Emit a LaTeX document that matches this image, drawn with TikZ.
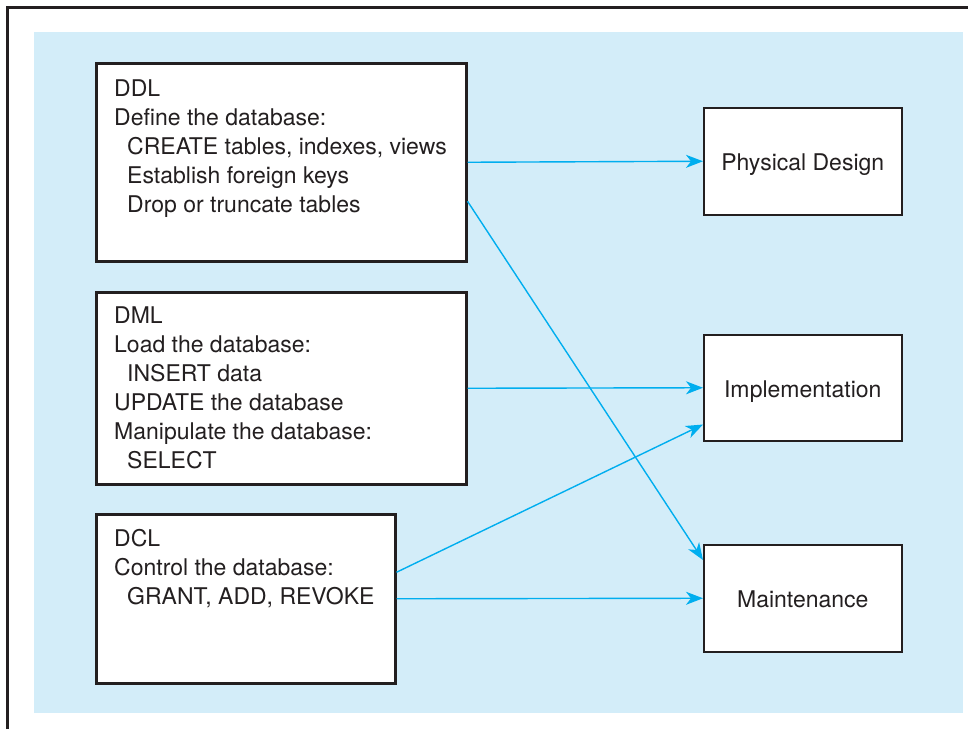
\documentclass[tikz,border=0pt]{standalone}
\usepackage{fontspec}
\setmainfont{TeX Gyre Heros}
\usetikzlibrary{arrows.meta}
\definecolor{panel}{HTML}{D3EDF9}
\definecolor{ink}{HTML}{231F20}
\definecolor{arrowc}{HTML}{00AEEF}
\begin{document}
\begin{tikzpicture}[x=1pt,y=-1pt,
  leftbox/.style={draw=ink, line width=2.5pt, fill=white, anchor=north west, inner sep=0pt},
  rightbox/.style={draw=ink, line width=1.5pt, fill=white, anchor=north west, inner sep=0pt,
    minimum width=198pt, text=ink, text height=19pt, text depth=0pt, font=\fontsize{23}{27}\selectfont},
  txt/.style={anchor=north west, inner sep=0pt, align=left, text=ink, font=\fontsize{23}{29}\selectfont},
  conn/.style={draw=arrowc, line width=1.4pt, -{Stealth[length=17pt,width=13pt,inset=5pt]}}]
\useasboundingbox (0,0) rectangle (968,729);
\fill[panel] (34,32) rectangle (963,713);
\draw[ink, line width=3pt] (7.5,729) -- (7.5,7.5) -- (968,7.5);

% left boxes
\node[leftbox, minimum width=370pt, minimum height=198pt] (ddl) at (95,62) {};
\node[leftbox, minimum width=370pt, minimum height=192pt] (dml) at (95,291) {};
\node[leftbox, minimum width=299pt, minimum height=169pt] (dcl) at (95,513) {};

\node[txt] (ddltxt) at (114,79.5) {DDL\\Define the database:\\\hspace*{13pt}CREATE tables, indexes, views\\\hspace*{13pt}Establish foreign keys\\\hspace*{13pt}Drop or truncate tables};
\node[txt] (dmltxt) at (114,306.5) {DML\\Load the database:\\\hspace*{13pt}INSERT data\\UPDATE the database\\Manipulate the database:\\\hspace*{13pt}SELECT};
\node[txt] (dcltxt) at (114,529.5) {DCL\\Control the database:\\\hspace*{13pt}GRANT, ADD, REVOKE};

% right boxes
\node[rightbox, minimum height=107pt] (pd) at (703,107) {Physical Design};
\node[rightbox, minimum height=106pt] (impl) at (703,334) {Implementation};
\node[rightbox, minimum height=107pt] (maint) at (703,544) {Maintenance};

% connectors
\draw[conn] (ddl.east) -- (pd.west);
\draw[conn] ([yshift=-39pt]ddl.east) -- ([yshift=-16pt]maint.north west);
\draw[conn] (dml.east) -- (impl.west);
\draw[conn] ([yshift=26.5pt]dcl.east) -- ([yshift=17pt]impl.south west);
\draw[conn] (dcl.east) -- (maint.west);
\end{tikzpicture}
\end{document}
